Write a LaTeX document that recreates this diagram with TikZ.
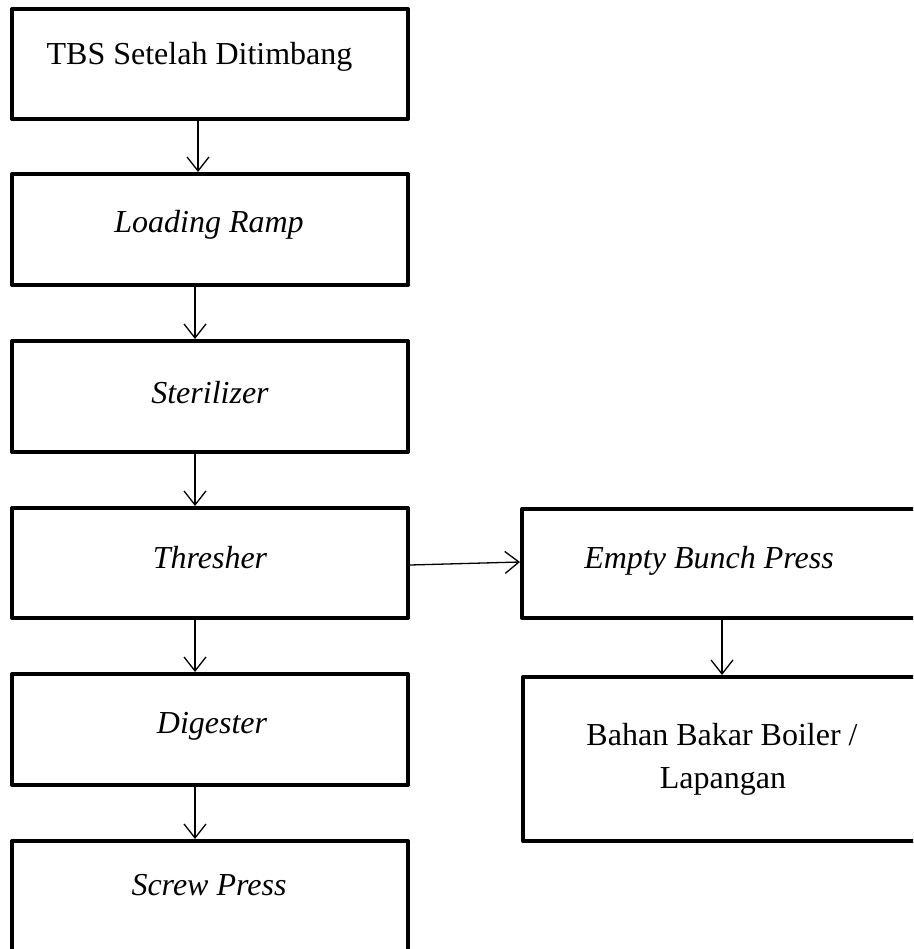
\documentclass[tikz,border=0pt]{standalone}
\usepackage{fontspec}
\setmainfont{Liberation Serif}
\usetikzlibrary{arrows.meta,calc}
\begin{document}
\begin{tikzpicture}[x=1pt,y=-1pt,
  box/.style={draw,line width=4pt,line join=round,inner sep=0pt,outer sep=2pt},
  lbl/.style={anchor=base,font=\fontsize{32}{43}\selectfont,inner sep=0pt,outer sep=0pt},
  ilbl/.style={lbl,font=\fontsize{32}{43}\selectfont\itshape},
  arr/.style={line width=1.3pt,-{Straight Barb[length=14pt,width=22pt,line width=1.3pt]}}]
\useasboundingbox (0,0) rectangle (913,949);
\clip (0,0) rectangle (913,949);
% boxes
\node[box,minimum width=396pt,minimum height=110pt] (b1) at (210,64) {};
\node[box,minimum width=396pt,minimum height=111pt] (b2) at (210,229.5) {};
\node[box,minimum width=396pt,minimum height=111pt] (b3) at (210,396.5) {};
\node[box,minimum width=396pt,minimum height=110pt] (b4) at (210,563) {};
\node[box,minimum width=396pt,minimum height=111pt] (b5) at (210,729.5) {};
\node[box,minimum width=396pt,minimum height=129pt] (b6) at (210,905.5) {};
\node[box,minimum width=408pt,minimum height=109pt] (r1) at (726,563.5) {};
\node[box,minimum width=407pt,minimum height=164pt] (r2) at (726.5,759) {};
% texts
\node[lbl] (t1) at (199.5,65) {TBS Setelah Ditimbang};
\node[ilbl] (t2) at (209,233) {Loading Ramp};
\node[ilbl] (t3) at (210,403) {Sterilizer};
\node[ilbl] (t4) at (210,568) {Thresher};
\node[ilbl] (t5) at (212,733) {Digester};
\node[ilbl] (t6) at (209,895) {Screw Press};
\node[ilbl] (t7) at (709,568) {Empty Bunch Press};
\node[lbl] (t8) at (722,745) {Bahan Bakar Boiler /};
\node[lbl] (t9) at (723,788) {Lapangan};
% arrow columns
\coordinate (xa) at (198,0);
\coordinate (xb) at (195,0);
\coordinate (xr) at (722,0);
\draw[arr] (b1.south -| xa) -- (b2.north -| xa);
\draw[arr] (b2.south -| xb) -- (b3.north -| xb);
\draw[arr] (b3.south -| xb) -- (b4.north -| xb);
\draw[arr] (b4.south -| xb) -- (b5.north -| xb);
\draw[arr] (b5.south -| xb) -- (b6.north -| xb);
\draw[arr] (r1.south -| xr) -- (r2.north -| xr);
\draw[arr] ($(b4.east)+(0,2)$) -- ($(r1.west)+(0,-1.5)$);
\end{tikzpicture}
\end{document}
